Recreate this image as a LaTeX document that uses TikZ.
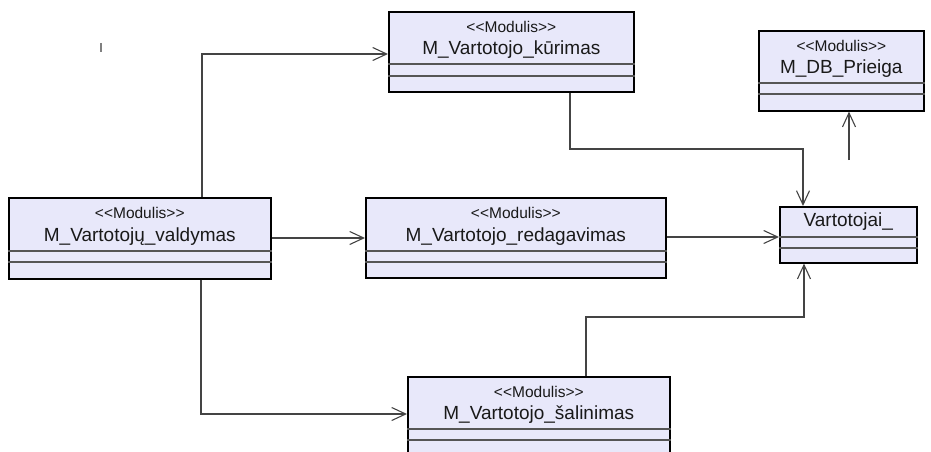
\documentclass[tikz,border=0pt]{standalone}
\usepackage{fontspec}
\setmainfont{Liberation Sans}
\usetikzlibrary{arrows.meta}
\definecolor{boxfill}{RGB}{232,232,250}
\definecolor{conncol}{RGB}{68,68,68}
\definecolor{innercol}{RGB}{85,85,85}
\newcommand{\stereotxt}{{<}{<}Modulis{>}{>}}
\tikzset{
  umlbox/.style={draw=black, line width=1.6pt, fill=boxfill, rectangle, inner sep=0pt, anchor=north west},
  innerline/.style={draw=innercol, line width=1.2pt},
  stereo/.style={font=\fontsize{15.5pt}{18pt}\selectfont, text=black!90, inner sep=0pt},
  mname/.style={font=\fontsize{19pt}{22pt}\selectfont, text=black!90, inner sep=0pt},
  conn/.style={draw=conncol, line width=1.1pt, -{Straight Barb[length=14pt,width=13pt,line width=1.1pt]}},
}
\begin{document}
\begin{tikzpicture}[x=1pt,y=-1pt]
\useasboundingbox (0,0) rectangle (931,452);
\clip (0,0) rectangle (931,452);
% boxes
\node[umlbox, minimum width=245pt, minimum height=80pt] (kurimas) at (388,11) {};
\node[umlbox, minimum width=165pt, minimum height=80pt] (db) at (758,30) {};
\node[umlbox, minimum width=262pt, minimum height=81pt] (valdymas) at (8,197) {};
\node[umlbox, minimum width=300pt, minimum height=80pt] (redag) at (365,197) {};
\node[umlbox, minimum width=137pt, minimum height=56pt] (vart) at (779,206) {};
\node[umlbox, minimum width=262pt, minimum height=80pt] (salin) at (407,376) {};
% compartment lines
\foreach \b/\ya/\yb in {kurimas/64/76, db/83/94, valdymas/251/262, redag/251/262, vart/237/248, salin/429/440}{
  \draw[innerline] (\b.west |- 0,\ya) -- (\b.east |- 0,\ya);
  \draw[innerline] (\b.west |- 0,\yb) -- (\b.east |- 0,\yb);
}
% texts
\node[stereo] (kurimasS) at (kurimas.north |- 0,27) {\stereotxt};
\node[mname] (kurimasN) at (kurimas.north |- 0,50) {M\_Vartotojo\_kūrimas};
\node[stereo] (dbS) at (db.north |- 0,46) {\stereotxt};
\node[mname] (dbN) at (db.north |- 0,69) {M\_DB\_Prieiga};
\node[stereo] (valdymasS) at (valdymas.north |- 0,213) {\stereotxt};
\node[mname] (valdymasN) at (valdymas.north |- 0,237) {M\_Vartotojų\_valdymas};
\node[stereo] (redagS) at (redag.north |- 0,213) {\stereotxt};
\node[mname] (redagN) at (redag.north |- 0,237) {M\_Vartotojo\_redagavimas};
\node[mname] (vartN) at (vart.north |- 0,222) {Vartotojai\_};
\node[stereo] (salinS) at (salin.north |- 0,392) {\stereotxt};
\node[mname] (salinN) at (salin.north |- 0,415) {M\_Vartotojo\_šalinimas};
% connectors
\draw[conn] (valdymas.north -| 202,0) |- (kurimas.west |- 0,54);
\draw[conn] (valdymas.east |- 0,238) -- (redag.west |- 0,238);
\draw[conn] (valdymas.south -| 201,0) |- (salin.west |- 0,414);
\draw[conn] (kurimas.south -| 570,0) -- (570,149) -| (vart.north -| 803,0);
\draw[conn] (redag.east |- 0,237) -- (vart.west |- 0,237);
\draw[conn] (salin.north -| 586,0) -- (586,317) -| (vart.south -| 804,0);
\coordinate (dbfree) at (849,160);
\draw[conn] (dbfree) -- (db.south -| 849,0);
% stray tick
\draw[draw=gray, line width=1.5pt] (101,43) -- (101,52);
\end{tikzpicture}
\end{document}
